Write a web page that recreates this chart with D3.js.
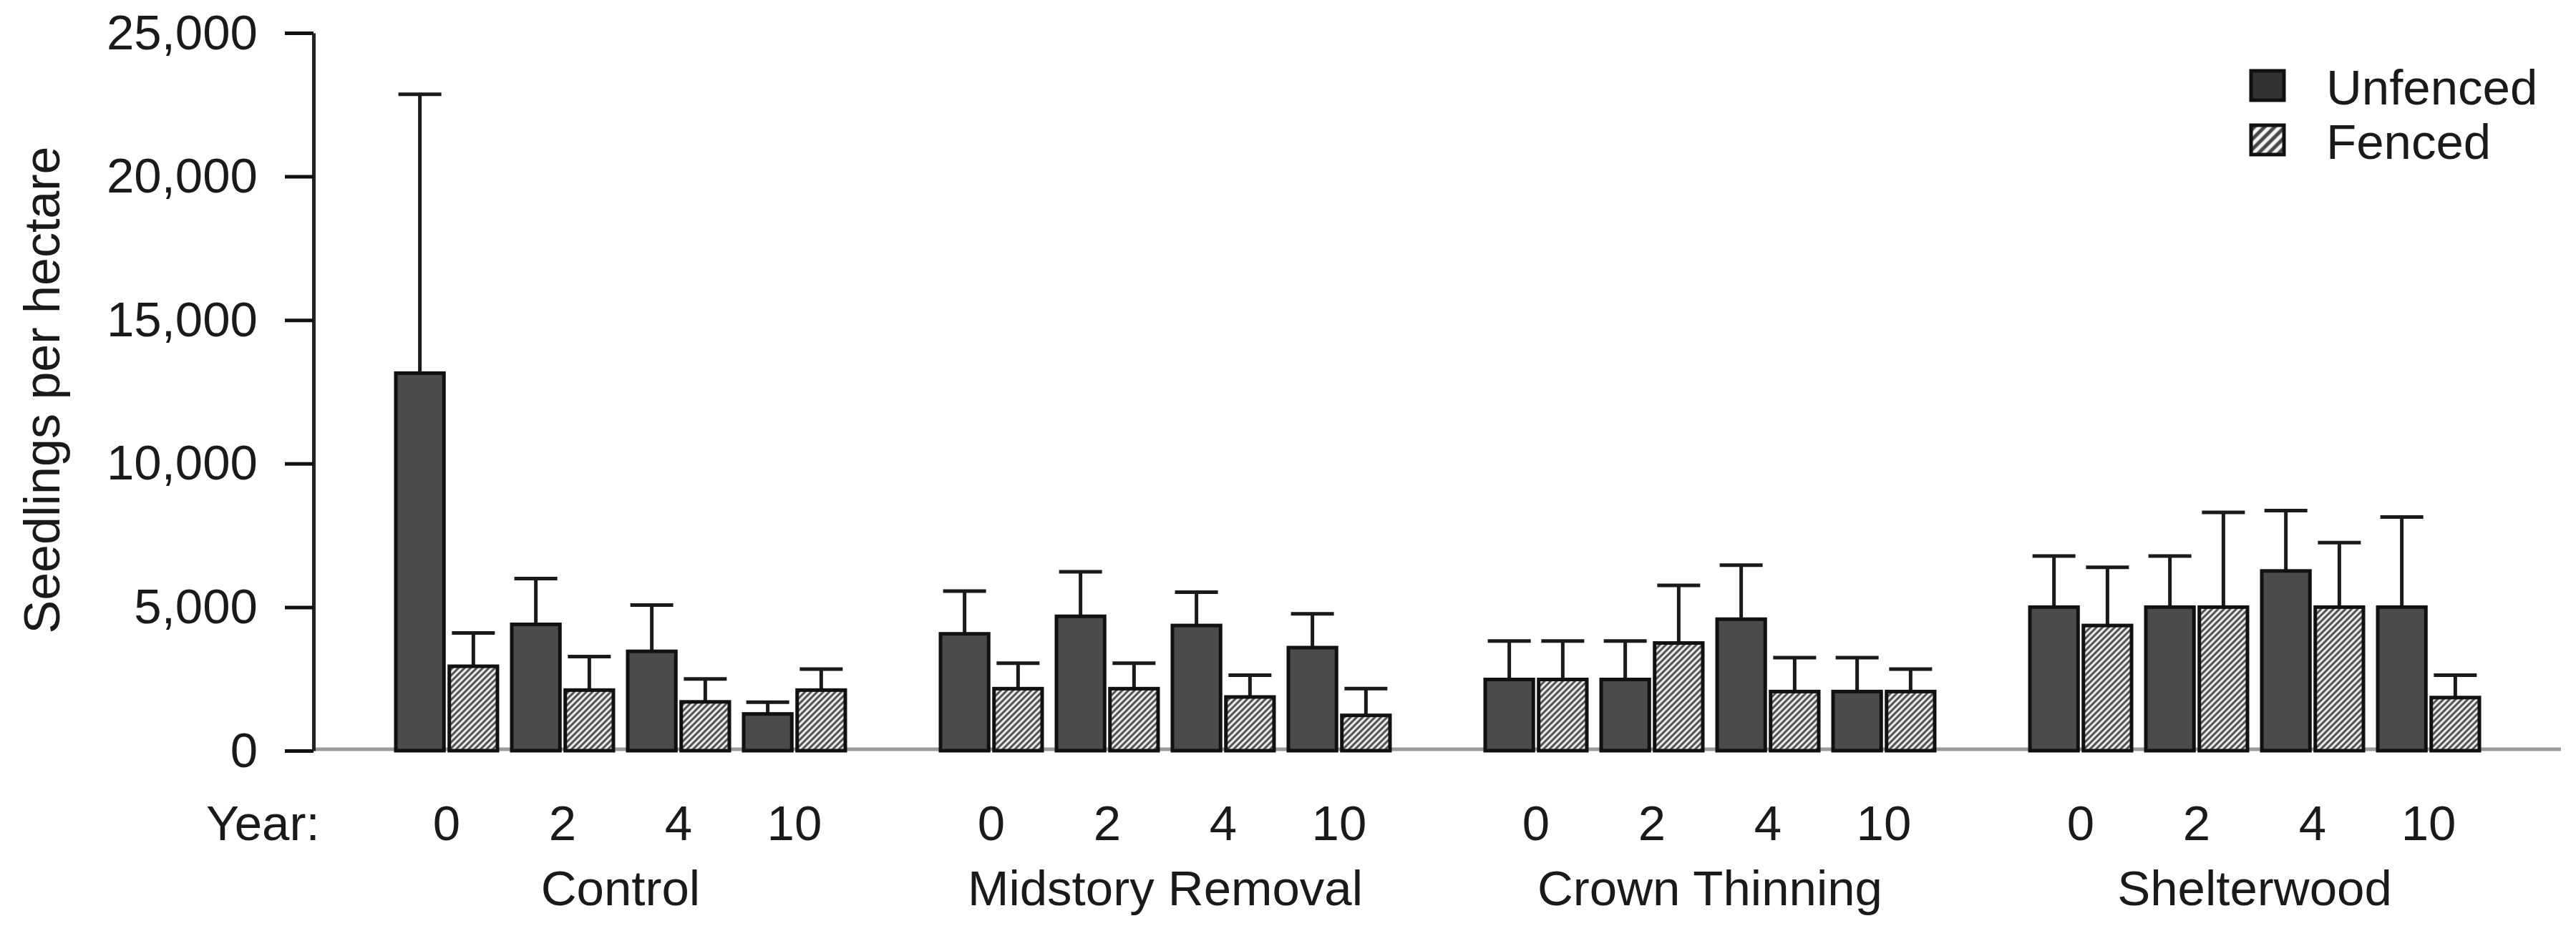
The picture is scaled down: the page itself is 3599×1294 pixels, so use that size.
<!DOCTYPE html>
<html>
<head>
<meta charset="utf-8">
<script src="https://cdn.jsdelivr.net/npm/d3@7"></script>
<style>
  body { margin: 0; background: #fff; }
  text { font-family: "Liberation Sans", Arial, sans-serif; fill: #1a1a1a; }
</style>
</head>
<body>
<svg id="chart"></svg>
<script>
var width = 3599;
var height = 1294;

// treatments, years and the two series
var groups = ["Control", "Midstory Removal", "Crown Thinning", "Shelterwood"];
var years = ["0", "2", "4", "10"];
var series = ["Unfenced", "Fenced"];

// means per group, in year order (seedlings per hectare)
var unfencedMean = [
  13150, 4400, 3460, 1280,
  4070, 4680, 4360, 3590,
  2480, 2480, 4580, 2060,
  5000, 5000, 6260, 5000
];
var unfencedSE = [
  9710, 1595, 1615, 410,
  1490, 1550, 1160, 1180,
  1340, 1340, 1880, 1180,
  1780, 1780, 2100, 3140
];
var fencedMean = [
  2940, 2110, 1700, 2110,
  2160, 2160, 1870, 1230,
  2480, 3750, 2060, 2060,
  4360, 5000, 5000, 1850
];
var fencedSE = [
  1160, 1165, 800, 730,
  890, 890, 760, 930,
  1340, 2010, 1180, 780,
  2030, 3300, 2250, 780
];
var yTicks = [0, 5000, 10000, 15000, 20000, 25000];

// flatten into rows
var data = [];
groups.forEach(function(g, gi) {
  years.forEach(function(yr, yi) {
    var i = gi * years.length + yi;
    data.push({group: g, year: yr, series: "Unfenced", mean: unfencedMean[i], se: unfencedSE[i]});
    data.push({group: g, year: yr, series: "Fenced", mean: fencedMean[i], se: fencedSE[i]});
  });
});

var svg = d3.select("#chart")
    .attr("width", width)
    .attr("height", height);

var defs = svg.append("defs");
function hatch(id, size, lw) {
  var p = defs.append("pattern")
      .attr("id", id)
      .attr("patternUnits", "userSpaceOnUse")
      .attr("width", size)
      .attr("height", size)
      .attr("patternTransform", "rotate(45)");
  p.append("rect").attr("width", size).attr("height", size).attr("fill", "#f6f6f6");
  p.append("line")
      .attr("x1", size / 2).attr("x2", size / 2)
      .attr("y1", 0).attr("y2", size)
      .attr("stroke", "#484848")
      .attr("stroke-width", lw);
}
hatch("hatch", 6, 3);
hatch("hatchLegend", 10, 5);

var yScale = d3.scaleLinear()
    .domain([0, 25000])
    .range([1049, 46]);

var xGroup = d3.scaleBand()
    .domain(groups)
    .range([553, 3464])
    .paddingInner(0.1748);

var xYear = d3.scaleBand()
    .domain(years)
    .range([0, xGroup.bandwidth()])
    .paddingInner(0.1235);

var xSeries = d3.scaleBand()
    .domain(series)
    .range([0, xYear.bandwidth()])
    .paddingInner(0.1);

function barX(d) {
  return xGroup(d.group) + xYear(d.year) + xSeries(d.series);
}

// baseline
svg.append("line")
    .attr("x1", 437).attr("x2", 3578)
    .attr("y1", yScale(0) - 2).attr("y2", yScale(0) - 2)
    .attr("stroke", "#9a9a9a")
    .attr("stroke-width", 5);

// y axis
var yAxis = d3.axisLeft(yScale)
    .tickValues(yTicks)
    .tickFormat(d3.format(","))
    .tickSize(40)
    .tickSizeOuter(0)
    .tickPadding(38);

var gy = svg.append("g")
    .attr("transform", "translate(438,0)")
    .call(yAxis);
gy.select(".domain").attr("stroke", "#222").attr("stroke-width", 5);
gy.selectAll(".tick line").attr("stroke", "#111").attr("stroke-width", 5);
gy.selectAll(".tick text")
    .style("font-size", "69px")
    .style("font-family", "Liberation Sans, Arial, sans-serif")
    .attr("fill", "#1a1a1a");

// error bars
var err = svg.append("g").selectAll("g")
    .data(data)
    .enter()
    .append("g");
err.append("line")
    .attr("x1", function(d) { return barX(d) + xSeries.bandwidth() / 2; })
    .attr("x2", function(d) { return barX(d) + xSeries.bandwidth() / 2; })
    .attr("y1", function(d) { return yScale(d.mean); })
    .attr("y2", function(d) { return yScale(d.mean + d.se); })
    .attr("stroke", "#1a1a1a")
    .attr("stroke-width", 5);
err.append("line")
    .attr("x1", function(d) { return barX(d) + xSeries.bandwidth() / 2 - 30; })
    .attr("x2", function(d) { return barX(d) + xSeries.bandwidth() / 2 + 30; })
    .attr("y1", function(d) { return yScale(d.mean + d.se); })
    .attr("y2", function(d) { return yScale(d.mean + d.se); })
    .attr("stroke", "#1a1a1a")
    .attr("stroke-width", 5);

// bars
svg.append("g").selectAll("rect")
    .data(data)
    .enter()
    .append("rect")
    .attr("x", barX)
    .attr("y", function(d) { return yScale(d.mean); })
    .attr("width", xSeries.bandwidth())
    .attr("height", function(d) { return yScale(0) - yScale(d.mean); })
    .attr("fill", function(d) { return d.series === "Unfenced" ? "#4b4b4b" : "url(#hatch)"; })
    .attr("stroke", "#111")
    .attr("stroke-width", 5);

// year labels
var yearRows = [];
groups.forEach(function(g) {
  years.forEach(function(yr) { yearRows.push({group: g, year: yr}); });
});
svg.append("g").selectAll("text")
    .data(yearRows)
    .enter()
    .append("text")
    .attr("x", function(d) { return xGroup(d.group) + xYear(d.year) + xYear.bandwidth() / 2; })
    .attr("y", 1174)
    .attr("text-anchor", "middle")
    .style("font-size", "69px")
    .text(function(d) { return d.year; });

svg.append("text")
    .attr("x", 288)
    .attr("y", 1174)
    .style("font-size", "69px")
    .text("Year:");

// group labels
svg.append("g").selectAll("text")
    .data(groups)
    .enter()
    .append("text")
    .attr("x", function(d) { return xGroup(d) + xGroup.bandwidth() / 2; })
    .attr("y", 1265)
    .attr("text-anchor", "middle")
    .style("font-size", "69px")
    .text(function(d) { return d; });

// y axis title
svg.append("text")
    .attr("transform", "rotate(-90)")
    .attr("x", -545)
    .attr("y", 83)
    .attr("text-anchor", "middle")
    .style("font-size", "70px")
    .text("Seedlings per hectare");

// legend
var legend = svg.append("g").selectAll("g")
    .data(series)
    .enter()
    .append("g")
    .attr("transform", function(d, i) { return "translate(3145," + (99 + i * 76) + ")"; });
legend.append("rect")
    .attr("width", 46)
    .attr("height", 41)
    .attr("fill", function(d) { return d === "Unfenced" ? "#333" : "url(#hatchLegend)"; })
    .attr("stroke", "#111")
    .attr("stroke-width", 5);
legend.append("text")
    .attr("x", 105)
    .attr("y", 47)
    .style("font-size", "69px")
    .text(function(d) { return d; });
</script>
</body>
</html>
